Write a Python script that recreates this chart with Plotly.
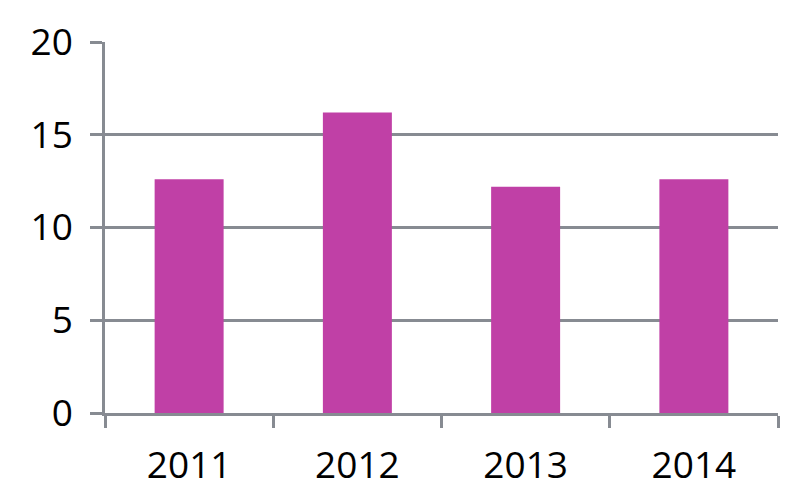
import plotly.graph_objects as go

# values
years = ["2011", "2012", "2013", "2014"]
values = [12.6, 16.2, 12.2, 12.6]
y_ticks = [0, 5, 10, 15, 20]

bar_color = "#C040A6"
line_color = "#878B92"

fig = go.Figure()

fig.add_trace(go.Bar(
	x=years,
	y=values,
	marker=dict(color=bar_color, line=dict(width=0)),
	))

fig.update_xaxes(
	showline=True, linecolor=line_color, linewidth=2.5,
	ticks="outside", tickson="boundaries", ticklen=12, tickwidth=2.5, tickcolor=line_color,
	showgrid=False, automargin=False,
	ticklabelstandoff=18,
	tickfont=dict(size=37, color="black"),
	)

fig.update_yaxes(
	range=[0, 20], tickvals=y_ticks,
	showline=True, linecolor=line_color, linewidth=2.5,
	ticks="outside", ticklen=12, tickwidth=2.5, tickcolor=line_color,
	showgrid=True, gridcolor=line_color, gridwidth=2.5,
	zeroline=False, automargin=False,
	ticklabelstandoff=10,
	tickfont=dict(size=37, color="black"),
	)

#page adds a small offset, so margins are shifted a bit
fig.update_layout(
	width=806, height=489,
	margin={"l":97, "r":36, "t":34, "b":84},
	bargap=0.59,
	plot_bgcolor="white", paper_bgcolor="white",
	font=dict(family="Open Sans"),
	showlegend=False,
	)

fig.write_html("out.html")
